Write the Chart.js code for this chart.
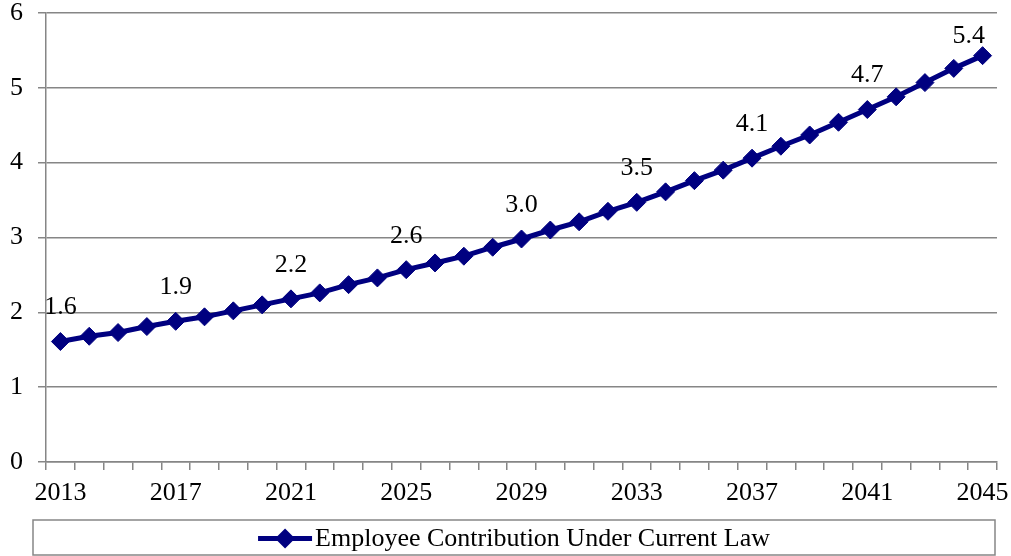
<!DOCTYPE html>
<html>
<head>
<meta charset="utf-8">
<script src="https://cdn.jsdelivr.net/npm/chart.js@4.4.0/dist/chart.umd.min.js"></script>
<style>
  html, body { margin: 0; padding: 0; background: #fff; }
  #wrap { width: 1011px; height: 556px; position: relative; }
</style>
</head>
<body>
<div id="wrap"><canvas id="chart" width="1011" height="556"></canvas></div>
<script>
// Годы (категории оси X)
const years = [];
for (let y = 2013; y <= 2045; y++) years.push(String(y));

// Значения ряда
const contribution = [
  1.61, 1.68, 1.73, 1.81, 1.88, 1.94, 2.02, 2.10, 2.18, 2.26,
  2.37, 2.46, 2.57, 2.66, 2.75, 2.87, 2.98, 3.10, 3.21, 3.35,
  3.47, 3.61, 3.76, 3.90, 4.06, 4.22, 4.37, 4.54, 4.71, 4.88,
  5.07, 5.26, 5.43
];

const seriesName = "Employee Contribution Under Current Law";
const yTicks = [0, 1, 2, 3, 4, 5, 6];

const FONT = "'Liberation Serif', 'Times New Roman', serif";
const NAVY = "#000080";
const GREY = "#868686";

// Подписи значений над каждой четвёртой точкой
const valueLabels = {
  id: "valueLabels",
  afterDatasetsDraw(chart) {
    const { ctx, chartArea } = chart;
    const meta = chart.getDatasetMeta(0);
    ctx.save();
    ctx.font = "26px " + FONT;
    ctx.fillStyle = "#000";
    ctx.textAlign = "center";
    ctx.textBaseline = "middle";
    meta.data.forEach((pt, i) => {
      if (i % 4 !== 0) return;
      const text = contribution[i].toFixed(1);
      const w = ctx.measureText(text).width;
      let x = pt.x;
      if (x + w / 2 > chartArea.right - 12) x = chartArea.right - 12 - w / 2;
      const y = Math.max(pt.y - 34, chartArea.top + 23);
      ctx.fillText(text, x, y);
    });
    ctx.restore();
  }
};

// Легенда в рамке внизу
const boxLegend = {
  id: "boxLegend",
  afterDraw(chart) {
    const { ctx } = chart;
    const left = 33, right = 995, top = 520, bottom = 555;
    ctx.save();
    ctx.strokeStyle = GREY;
    ctx.lineWidth = 1.5;
    ctx.strokeRect(left, top, right - left, bottom - top);

    ctx.font = "26px " + FONT;
    const tw = ctx.measureText(seriesName).width;
    const symW = 54, gap = 3;
    const total = symW + gap + tw;
    const x0 = (left + right) / 2 - total / 2;
    const cy = (top + bottom) / 2 + 1;

    ctx.strokeStyle = NAVY;
    ctx.lineWidth = 5;
    ctx.beginPath();
    ctx.moveTo(x0, cy);
    ctx.lineTo(x0 + symW, cy);
    ctx.stroke();

    const r = 10, cx = x0 + symW / 2;
    ctx.fillStyle = NAVY;
    ctx.beginPath();
    ctx.moveTo(cx, cy - r);
    ctx.lineTo(cx + r, cy);
    ctx.lineTo(cx, cy + r);
    ctx.lineTo(cx - r, cy);
    ctx.closePath();
    ctx.fill();

    ctx.fillStyle = "#000";
    ctx.textAlign = "left";
    ctx.textBaseline = "middle";
    ctx.fillText(seriesName, x0 + symW + gap, cy + 1);
    ctx.restore();
  }
};

const ctx = document.getElementById("chart").getContext("2d");
new Chart(ctx, {
  type: "line",
  data: {
    labels: years,
    datasets: [{
      label: seriesName,
      data: contribution,
      borderColor: NAVY,
      backgroundColor: NAVY,
      borderWidth: 5,
      pointStyle: "rectRot",
      pointRadius: 9,
      pointBorderWidth: 1,
      pointBackgroundColor: NAVY,
      pointBorderColor: NAVY,
      tension: 0
    }]
  },
  options: {
    responsive: false,
    animation: false,
    events: [],
    layout: { padding: { top: 13, right: 14, bottom: 44, left: 0 } },
    plugins: {
      legend: { display: false },
      tooltip: { enabled: false },
      title: { display: false }
    },
    scales: {
      x: {
        offset: true,
        grid: {
          offset: true,
          drawOnChartArea: false,
          drawTicks: true,
          tickLength: 8,
          color: GREY,
          lineWidth: 1.5
        },
        border: { display: true, color: GREY, width: 1.5 },
        ticks: {
          autoSkip: false,
          maxRotation: 0,
          color: "#000",
          font: { family: FONT, size: 26 },
          padding: 8,
          callback: function (val, i) {
            return i % 4 === 0 ? years[i] : "";
          }
        },
        afterFit(scale) {
          scale.height = 50;
          scale.paddingLeft = 0;
          scale.paddingRight = 0;
        }
      },
      y: {
        min: yTicks[0],
        max: yTicks[yTicks.length - 1],
        afterBuildTicks(scale) {
          scale.ticks = yTicks.map(v => ({ value: v }));
        },
        grid: {
          color: GREY,
          lineWidth: 1.5,
          drawTicks: true,
          tickLength: 8
        },
        border: { display: true, color: GREY, width: 1.5 },
        ticks: {
          color: "#000",
          font: { family: FONT, size: 26 },
          padding: 15
        },
        afterFit(scale) {
          scale.width = 46;
          scale.paddingTop = 0;
          scale.paddingBottom = 0;
        }
      }
    }
  },
  plugins: [valueLabels, boxLegend]
});
</script>
</body>
</html>
